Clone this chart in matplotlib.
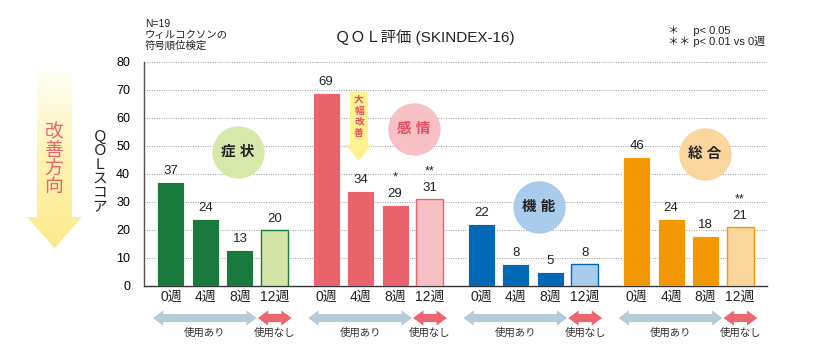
import numpy as np
import matplotlib
matplotlib.use('Agg')
import matplotlib.pyplot as plt
from matplotlib.patches import Polygon
from matplotlib.colors import LinearSegmentedColormap

plt.rcParams['font.family'] = ['Liberation Sans', 'Noto Sans CJK JP', 'DejaVu Sans']

# data
weeks = ['0週', '4週', '8週', '12週']
groups = ['症状', '感情', '機能', '総合']
symptom = [37, 24, 13, 20]
emotion = [69, 34, 29, 31]
function = [22, 8, 5, 8]
overall = [46, 24, 18, 21]
marks_emotion = ['', '', '*', '**']
marks_overall = ['', '', '', '**']
marks_none = ['', '', '', '']

series = [symptom, emotion, function, overall]
marks = [marks_none, marks_emotion, marks_none, marks_overall]

dark = ['#1a7a3b', '#ea646e', '#0068b4', '#f39800']
light = ['#d3e5a6', '#f6bfc3', '#a9cbec', '#fad59c']
circ_col = ['#d6e8aa', '#f6c0c4', '#a9cbec', '#fad69e']
circ_txt = ['#222222', '#e84c62', '#222222', '#222222']
circ_pos = [(1.94, 47.9), (7.04, 56), (10.67, 28.2), (15.48, 47.1)]

fig = plt.figure(figsize=(8.4, 3.57), dpi=100)
ax = fig.add_axes([144/840, 1-286/357, (767-144)/840, 224/357])

stride = 4.5
w = 0.78
for g, vals in enumerate(series):
    xs = g*stride + np.arange(4)
    for i, (x, v) in enumerate(zip(xs, vals)):
        if i < 3:
            ax.bar(x, v, width=w, color=dark[g], edgecolor='white', linewidth=0.6, zorder=3)
        else:
            ax.bar(x, v, width=w, color=light[g], edgecolor=dark[g], linewidth=1.0, zorder=3)
        ax.text(x, v + 1.8, str(v), ha='center', va='bottom', fontsize=9.5,
                color='#222222', zorder=4)
        if marks[g][i]:
            ax.text(x, v + 7.6, marks[g][i], ha='center', va='bottom', fontsize=9,
                    color='#222222', zorder=4)
    # circle label
    cx, cy = circ_pos[g]
    ax.scatter([cx], [cy], s=1420, color=circ_col[g], zorder=2, linewidths=0)
    ax.text(cx, cy, groups[g][0] + ' ' + groups[g][1],
            ha='center', va='center', fontsize=10.5, fontweight='bold',
            color=circ_txt[g], zorder=3)
    # usage arrows below axis
    for (x0, x1, col, lab) in [(xs[0]-0.52, xs[2]+0.49, '#b5ccd8', '使用あり'),
                               (xs[3]-0.48, xs[3]+0.5, '#ec6570', '使用なし')]:
        yc, sh, hh, hl = -0.143, 0.018, 0.034, 0.3
        pts = [(x0, yc), (x0+hl, yc+hh), (x0+hl, yc+sh), (x1-hl, yc+sh), (x1-hl, yc+hh),
               (x1, yc), (x1-hl, yc-hh), (x1-hl, yc-sh), (x0+hl, yc-sh), (x0+hl, yc-hh)]
        ax.add_patch(Polygon(pts, closed=True, color=col, lw=0,
                             transform=ax.get_xaxis_transform(), clip_on=False))
        ax.text((x0+x1)/2, -0.21, lab, ha='center', va='center', fontsize=7.5,
                color='#333333', transform=ax.get_xaxis_transform())

# 大幅改善 arrow
pts = [(5.19, 69.3), (5.71, 69.3), (5.71, 50.4), (5.83, 50.4), (5.45, 44.6),
       (5.07, 50.4), (5.19, 50.4)]
ax.add_patch(Polygon(pts, closed=True, color='#fff190', lw=0, zorder=2))
ax.text(5.45, 60.5, '大\n幅\n改\n善', ha='center', va='center', fontsize=7,
        fontweight='bold', color='#e84c62', linespacing=1.15, zorder=3)

xpos = np.concatenate([g*stride + np.arange(4) for g in range(4)])
ax.set_xticks(xpos)
ax.set_xticklabels(weeks*4, fontsize=10, color='#222222')
ax.set_xlim(-0.78, 3*stride + 3 + 0.78)
ax.set_ylim(0, 80)
ax.set_yticks(range(0, 81, 10))
ax.tick_params(axis='y', length=0, labelsize=9, pad=10)
ax.tick_params(axis='x', length=0, pad=3)
ax.yaxis.grid(True, linestyle=(0, (1, 1.5)), color='#999999', linewidth=0.7)
ax.set_axisbelow(True)
for s in ['top', 'right']:
    ax.spines[s].set_visible(False)
ax.spines['left'].set_color('#5a5050')
ax.spines['bottom'].set_color('#333333')
ax.spines['left'].set_linewidth(1.0)
ax.spines['bottom'].set_linewidth(1.0)

# texts
fig.text(425/840, 1-37/357, 'ＱＯＬ評価 (SKINDEX-16)', ha='center', va='center',
         fontsize=11, color='#222222')
fig.text(145/840, 1-35/357, 'N=19\nウィルコクソンの\n符号順位検定', ha='left', va='center',
         fontsize=7.5, linespacing=1.05, color='#222222')
fig.text(668/840, 1-36/357, '＊　 p< 0.05\n＊＊ p< 0.01 vs 0週', ha='left', va='center',
         fontsize=8, linespacing=1.0, color='#222222')
fig.text(100/840, 1-172/357, 'Ｑ\nＯ\nＬ\nス\nコ\nア', ha='center', va='center',
         fontsize=10.5, linespacing=1.0, color='#222222')

# big gradient arrow on the left
aa = fig.add_axes([0, 0, 1, 1], zorder=-1)
aa.set_xlim(0, 840)
aa.set_ylim(357, 0)
aa.axis('off')
cmap = LinearSegmentedColormap.from_list('yel', ['#fffef5', '#fef3b0', '#fde98c'])
grad = np.linspace(0, 1, 256).reshape(-1, 1)
im = aa.imshow(grad, extent=(27, 82, 248, 72), cmap=cmap, aspect='auto')
arrow = Polygon([(37, 72), (72, 72), (72, 217), (82, 217), (54.5, 248), (27, 217), (37, 217)],
                closed=True, transform=aa.transData, facecolor='none', lw=0)
aa.add_patch(arrow)
im.set_clip_path(arrow)
fig.text(54/840, 1-160/357, '改\n善\n方\n向', ha='center', va='center',
         fontsize=13.5, linespacing=1.1, color='#ea646e')

fig.savefig('out.png', dpi=100)
